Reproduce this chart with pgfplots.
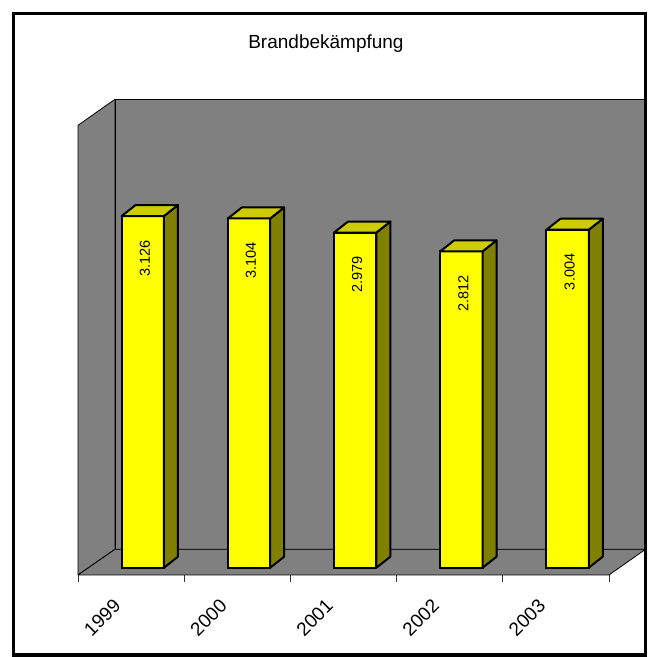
\documentclass[border=0pt]{standalone}
\usepackage{pgfplots}
\pgfplotsset{compat=1.18}
\usepackage{fontspec}
\setmainfont{Liberation Sans}
\definecolor{wall}{RGB}{128,128,128}
\definecolor{baryellow}{RGB}{255,255,0}
\definecolor{bartop}{RGB}{204,204,0}
\definecolor{barside}{RGB}{128,128,0}
\begin{document}
\begin{tikzpicture}
% chart walls and frame (pixel coordinates, y downward)
\begin{scope}[x=1pt,y=-1pt,yshift=657pt]
  \filldraw[fill=wall, draw=black, line width=0.8pt, line join=round]
    (78,575) -- (78,125.3) -- (115,99.3) -- (115,549.3) -- cycle;
  \filldraw[fill=wall, draw=black, line width=0.8pt, line join=round]
    (115,99.3) rectangle (645.5,549.3);
  \filldraw[fill=wall, draw=black, line width=0.8pt, line join=round]
    (78,575) -- (115,549.3) -- (645.5,549.3) -- (609,575) -- cycle;
  \foreach \k in {0,...,5} {
    \draw[black!80, line width=0.8pt] ({78+106.2*\k},575) -- ({78+106.2*\k},582.5);
  }
  \draw[line width=3pt] (13.5,13.5) rectangle (645.5,655);
\end{scope}
\begin{axis}[
  at={(0,0)}, anchor=south west,
  width=648pt, height=657pt, scale only axis,
  xmin=-1.34463, xmax=4.75706, ymin=-793.78, ymax=5046.22,
  enlargelimits=false, clip=false,
  axis x line*=bottom, axis y line=none,
  x axis line style={draw=none},
  xtick={0,1,2,3,4}, xticklabels={1999,2000,2001,2002,2003},
  major tick length=0pt, xtick style={draw=none},
  xticklabel style={font=\fontsize{19}{21}\selectfont, anchor=east, inner sep=0pt,
    xshift=-25.5pt, yshift=54.3pt, rotate=45},
  title={Brandbekämpfung},
  every axis title shift=0pt,
  title style={at={(rel axis cs:0.503,0.933)}, anchor=center, font=\fontsize{19}{22}\selectfont},
  /pgf/number format/assume math mode=true,
  /pgf/number format/1000 sep={.},
]
% top and side faces of the 3D bars
\addplot[scatter, only marks, mark=*, mark size=0pt, draw=none, fill=none,
  visualization depends on={rawy \as \rawy},
  scatter/@pre marker code/.code={%
    \filldraw[fill=barside, draw=black, line width=2pt, line join=round]
      (21.15pt,0pt) -- (35.15pt,11pt) -- (35.15pt,{11pt-0.1125pt*\rawy})
      -- (21.15pt,{-0.1125pt*\rawy}) -- cycle;
    \filldraw[fill=bartop, draw=black, line width=2pt, line join=round]
      (-21.15pt,0pt) -- (21.15pt,0pt) -- (35.15pt,11pt) -- (-7.15pt,11pt) -- cycle;
  },
  scatter/@post marker code/.code={},
] coordinates {(0,3126) (1,3104) (2,2979) (3,2812) (4,3004)};
% front faces
\addplot[ybar, bar width=42.3pt, fill=baryellow, draw=black, line width=2pt,
  nodes near coords,
  every node near coord/.append style={text=black, font=\fontsize{14.5}{16}\selectfont,
    anchor=east, inner sep=0pt, xshift=2pt, yshift=-23pt, rotate=90},
] coordinates {(0,3126) (1,3104) (2,2979) (3,2812) (4,3004)};
\end{axis}
\pgfresetboundingbox
\path[use as bounding box] (0,0) rectangle (648pt,657pt);
\end{tikzpicture}
\end{document}
